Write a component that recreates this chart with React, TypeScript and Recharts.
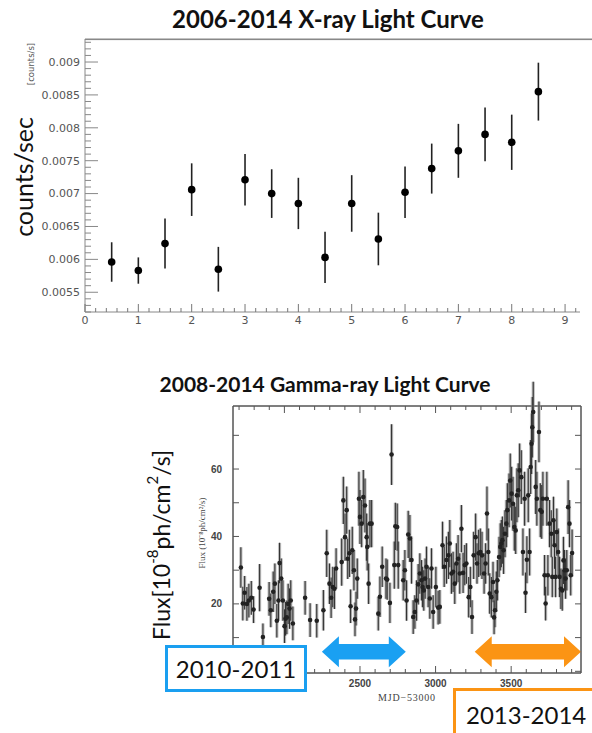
import React from "react";
import { ScatterChart, Scatter, XAxis, YAxis, ErrorBar, ReferenceArea } from "recharts";

// X-ray light curve (years since 2006)
const xrayYear = [0.5, 1, 1.5, 2, 2.5, 3, 3.5, 4, 4.5, 5, 5.5, 6, 6.5, 7, 7.5, 8, 8.5];
const xrayRate = [0.00596, 0.00583, 0.00624, 0.00706, 0.00585, 0.00721, 0.007, 0.00685, 0.00603, 0.00685, 0.00631, 0.00702, 0.00738, 0.00765, 0.0079, 0.00778, 0.00855];
const xrayErr = [0.0003, 0.0002, 0.00038, 0.0004, 0.00034, 0.00039, 0.00037, 0.00039, 0.00039, 0.00043, 0.0004, 0.00039, 0.00038, 0.00041, 0.00041, 0.00042, 0.00044];
const xrayXTicks = [0, 1, 2, 3, 4, 5, 6, 7, 8, 9];
const xrayXLabels = ["0", "1", "2", "3", "4", "5", "6", "7", "8", "9"];
const xrayYTicks = [0.0055, 0.006, 0.0065, 0.007, 0.0075, 0.008, 0.0085, 0.009];
const xrayYLabels = ["0.0055", "0.006", "0.0065", "0.007", "0.0075", "0.008", "0.0085", "0.009"];

// Gamma-ray light curve (MJD-53000)
const gammaMjd = [
  1712, 1725, 1737, 1752, 1765, 1781, 1796, 1836, 1858, 1899, 1910, 1926, 1937, 1950, 1961, 1968, 1979, 1990, 2001, 2007,
  2016, 2025, 2034, 2042, 2056, 2137, 2170, 2214, 2258, 2280, 2298, 2309, 2320, 2331, 2342, 2379, 2390, 2401, 2412, 2419,
  2430, 2438, 2449, 2460, 2467, 2474, 2482, 2493, 2500, 2511, 2522, 2533, 2544, 2548, 2557, 2566, 2577, 2621, 2632, 2647,
  2672, 2680, 2698, 2709, 2727, 2734, 2746, 2753, 2786, 2797, 2808, 2819, 2830, 2841, 2852, 2863, 2874, 2885, 2896, 2907,
  2914, 2922, 2931, 2940, 2951, 2962, 2973, 2984, 3002, 3017, 3028, 3046, 3057, 3072, 3085, 3094, 3105, 3116, 3127, 3138,
  3149, 3160, 3171, 3182, 3193, 3204, 3219, 3230, 3241, 3252, 3265, 3274, 3285, 3296, 3307, 3321, 3331, 3340, 3349, 3358,
  3369, 3380, 3387, 3393, 3402, 3409, 3420, 3428, 3435, 3442, 3450, 3459, 3468, 3475, 3486, 3494, 3503, 3512, 3521, 3530,
  3538, 3547, 3556, 3567, 3578, 3589, 3595, 3604, 3613, 3622, 3629, 3635, 3640, 3646, 3662, 3670, 3684, 3693, 3702, 3710,
  3721, 3728, 3736, 3743, 3754, 3765, 3772, 3780, 3787, 3794, 3802, 3811, 3820, 3829, 3838, 3846, 3853, 3860, 3868, 3877,
  3886, 3894, 3903,
];
const gammaFlux = [
  30.8, 20.1, 23.3, 20.0, 21.0, 21.8, 18.3, 24.8, 10.2, 21.5, 18.1, 23.6, 26.0, 15.0, 21.0, 32.1, 27.5, 21.0, 13.4, 15.6,
  16.0, 20.0, 18.6, 21.0, 14.2, 21.8, 15.2, 15.0, 18.1, 35.0, 26.0, 21.8, 25.0, 24.5, 30.5, 32.4, 50.7, 39.8, 47.8, 33.4,
  35.0, 19.3, 35.9, 30.0, 15.4, 18.6, 27.5, 51.2, 45.8, 43.8, 51.7, 49.2, 39.8, 36.9, 26.0, 43.8, 43.8, 17.1, 22.1, 31.0,
  27.5, 27.2, 20.3, 64.3, 31.5, 43.0, 42.8, 31.5, 27.0, 30.0, 21.0, 40.6, 39.4, 33.0, 16.1, 17.6, 21.0, 25.8, 29.0, 27.0,
  25.0, 24.0, 27.5, 31.0, 25.0, 21.6, 30.5, 17.6, 25.0, 18.9, 19.1, 37.4, 31.0, 33.0, 34.4, 37.9, 29.0, 29.5, 26.0, 32.0,
  33.4, 29.0, 42.3, 29.2, 31.5, 32.0, 22.0, 25.0, 16.1, 34.4, 39.8, 32.0, 35.0, 35.4, 34.4, 29.0, 32.0, 46.8, 35.4, 23.1,
  22.0, 26.5, 16.0, 18.1, 23.6, 27.0, 33.9, 36.9, 37.9, 38.9, 35.9, 40.8, 43.8, 47.8, 50.7, 56.6, 52.7, 49.7, 42.8, 41.8,
  52.2, 53.7, 59.6, 57.6, 35.4, 51.2, 23.3, 33.1, 52.2, 35.4, 60.6, 67.5, 72.4, 76.9, 54.7, 51.2, 71.0, 47.8, 47.3, 51.2,
  28.5, 20.1, 51.2, 28.5, 43.8, 40.8, 28.0, 44.8, 37.4, 28.0, 41.3, 35.4, 28.0, 24.5, 24.0, 32.9, 30.0, 27.5, 30.0, 48.7,
  43.8, 28.5, 35.1,
];
const gammaErr = [
  6, 5, 5, 5, 5, 5, 4, 7, 4, 5, 5, 6, 6, 5, 6, 6, 6, 6, 5, 5,
  5, 6, 6, 6, 5, 5, 5, 5, 6, 7, 6, 6, 6, 6, 6, 7, 7, 7, 7, 6,
  7, 5, 7, 6, 5, 5, 6, 8, 8, 7, 8, 8, 7, 7, 6, 7, 7, 5, 6, 6,
  6, 6, 6, 9, 7, 7, 7, 7, 6, 6, 6, 7, 7, 7, 5, 5, 6, 6, 6, 6,
  6, 6, 6, 6, 6, 6, 6, 5, 6, 5, 5, 7, 6, 7, 7, 7, 6, 6, 6, 6,
  7, 6, 7, 6, 6, 6, 6, 6, 5, 7, 7, 6, 7, 7, 7, 6, 6, 8, 7, 6,
  6, 6, 5, 5, 6, 6, 6, 7, 7, 7, 7, 7, 7, 8, 8, 8, 8, 8, 7, 7,
  8, 8, 8, 8, 7, 8, 6, 7, 8, 7, 8, 9, 9, 9, 8, 8, 9, 8, 8, 8,
  6, 5, 8, 6, 7, 7, 6, 7, 7, 6, 7, 7, 6, 6, 6, 7, 6, 6, 6, 8,
  7, 6, 7,
];
const gammaMajorX = [2000, 2500, 3000, 3500];
const gammaXTicks = [2500, 3000, 3500];
const gammaXLabels = ["2500", "3000", "3500"];
const gammaYTicks = [20, 40, 60];
const gammaYLabels = ["20", "40", "60"];

// highlighted periods (MJD-53000) and the flux band the arrows sit in
const blueSpan = [2248, 2803];
const orangeSpan = [3259, 3962];
const arrowBand = [1.2, 10.4];

const xrayData = xrayYear.map((x, i) => ({ x, y: xrayRate[i], err: xrayErr[i] }));
const gammaData = gammaMjd.map((x, i) => ({ x, y: gammaFlux[i], err: gammaErr[i] }));

function steps(from: number, to: number, step: number) {
  const n = Math.round((to - from) / step);
  const out: number[] = [];
  for (let i = 0; i <= n; i++) out.push(+(from + i * step).toFixed(6));
  return out;
}

type TickOpts = {
  side: "bottom" | "top" | "left" | "right";
  gap: number;
  longTicks: number[];
  labelValues?: number[];
  labels?: string[];
  long: number;
  short: number;
  stroke: string;
  font?: any;
};

function inwardTick(o: TickOpts) {
  return (props: any) => {
    const { x, y, payload } = props;
    const v = payload.value;
    const isLong = o.longTicks.some((m) => Math.abs(m - v) < 1e-7);
    const len = isLong ? o.long : o.short;
    let line = null;
    if (o.side === "bottom") {
      const ay = y - o.gap;
      line = <line x1={x} x2={x} y1={ay} y2={ay - len} stroke={o.stroke} />;
    } else if (o.side === "top") {
      const ay = y + o.gap;
      line = <line x1={x} x2={x} y1={ay} y2={ay + len} stroke={o.stroke} />;
    } else if (o.side === "left") {
      const ax = x + o.gap;
      line = <line x1={ax} x2={ax + len} y1={y} y2={y} stroke={o.stroke} />;
    } else {
      const ax = x - o.gap;
      line = <line x1={ax} x2={ax - len} y1={y} y2={y} stroke={o.stroke} />;
    }
    let label = null;
    if (o.labelValues && o.labels) {
      const idx = o.labelValues.findIndex((m) => Math.abs(m - v) < 1e-7);
      if (idx >= 0) {
        label =
          o.side === "left" ? (
            <text x={x} y={y} dy="0.35em" textAnchor="end" {...o.font}>
              {o.labels[idx]}
            </text>
          ) : (
            <text x={x} y={y} dy="0.75em" textAnchor="middle" {...o.font}>
              {o.labels[idx]}
            </text>
          );
      }
    }
    return (
      <g>
        {line}
        {label}
      </g>
    );
  };
}

function DoubleArrow(props: any) {
  const { x, y, width, height, color } = props;
  const head = 17;
  const shaft = height * 0.5;
  const cy = y + height / 2;
  const pts = [
    [x, cy],
    [x + head, y],
    [x + head, cy - shaft / 2],
    [x + width - head, cy - shaft / 2],
    [x + width - head, y],
    [x + width, cy],
    [x + width - head, y + height],
    [x + width - head, cy + shaft / 2],
    [x + head, cy + shaft / 2],
    [x + head, y + height],
  ]
    .map((p) => p.join(","))
    .join(" ");
  return <polygon points={pts} fill={color} />;
}

const rootFont = { fontFamily: "DejaVu Sans", fontSize: 11, fill: "#555" };
const gammaFont = { fontFamily: "Liberation Sans", fontSize: 10, fontWeight: 700, fill: "#444" };
const noMark = () => <g />;

function XrayChart() {
  const xDomain = [0, 9.28];
  const yDomain = [0.0052, 0.00935];
  return (
    <ScatterChart width={592} height={340} margin={{ top: 39, right: 12, bottom: 6, left: 25 }}>
      <XAxis
        xAxisId={0}
        type="number"
        dataKey="x"
        domain={xDomain}
        ticks={steps(0, 9.2, 0.2)}
        interval={0}
        height={22}
        tickSize={0}
        tickMargin={4}
        tickLine={false}
        axisLine={{ stroke: "#888" }}
        tick={inwardTick({ side: "bottom", gap: 4, longTicks: xrayXTicks, labelValues: xrayXTicks, labels: xrayXLabels, long: 8, short: 4, stroke: "#777", font: rootFont })}
      />
      <YAxis
        yAxisId={0}
        type="number"
        dataKey="y"
        domain={yDomain}
        ticks={steps(0.0052, 0.0093, 0.0001)}
        interval={0}
        width={60}
        tickSize={0}
        tickMargin={5}
        tickLine={false}
        axisLine={{ stroke: "#888" }}
        tick={inwardTick({ side: "left", gap: 5, longTicks: xrayYTicks, labelValues: xrayYTicks, labels: xrayYLabels, long: 13, short: 6, stroke: "#888", font: rootFont })}
      />
      <Scatter
        data={xrayData}
        isAnimationActive={false}
        shape={(p: any) => <circle cx={p.cx} cy={p.cy} r={3.8} fill="#000" />}
      >
        <ErrorBar dataKey="err" direction="y" width={0} stroke="#222" strokeWidth={1.6} isAnimationActive={false} />
      </Scatter>
    </ScatterChart>
  );
}

function GammaChart() {
  const xDomain = [1660, 3962];
  const yDomain = [-0.5, 78.7];
  const xMinor = steps(1700, 3900, 100);
  const yMinor = steps(0, 70, 10);
  return (
    <ScatterChart width={592} height={340} margin={{ top: 35, right: 10, bottom: 12, left: 173 }}>
      <XAxis
        xAxisId={0}
        type="number"
        dataKey="x"
        domain={xDomain}
        ticks={xMinor}
        interval={0}
        height={25}
        tickSize={0}
        tickMargin={6}
        tickLine={false}
        axisLine={{ stroke: "#555" }}
        tick={inwardTick({ side: "bottom", gap: 6, longTicks: gammaMajorX, labelValues: gammaXTicks, labels: gammaXLabels, long: 7, short: 4, stroke: "#555", font: gammaFont })}
      />
      <XAxis
        xAxisId="top"
        orientation="top"
        type="number"
        dataKey="x"
        domain={xDomain}
        ticks={xMinor}
        interval={0}
        height={1}
        tickSize={0}
        tickMargin={1}
        tickLine={false}
        axisLine={{ stroke: "#555" }}
        tick={inwardTick({ side: "top", gap: 1, longTicks: gammaMajorX, long: 7, short: 4, stroke: "#555" })}
      />
      <YAxis
        yAxisId={0}
        type="number"
        dataKey="y"
        domain={yDomain}
        allowDataOverflow
        ticks={yMinor}
        interval={0}
        width={60}
        tickSize={0}
        tickMargin={11}
        tickLine={false}
        axisLine={{ stroke: "#555" }}
        tick={inwardTick({ side: "left", gap: 11, longTicks: yMinor, labelValues: gammaYTicks, labels: gammaYLabels, long: 6, short: 6, stroke: "#555", font: gammaFont })}
      />
      <YAxis
        yAxisId="right"
        orientation="right"
        type="number"
        dataKey="y"
        domain={yDomain}
        allowDataOverflow
        ticks={yMinor}
        interval={0}
        width={1}
        tickSize={0}
        tickMargin={1}
        tickLine={false}
        axisLine={{ stroke: "#555" }}
        tick={inwardTick({ side: "right", gap: 1, longTicks: yMinor, long: 6, short: 6, stroke: "#555" })}
      />
      <ReferenceArea x1={xDomain[0]} x2={xDomain[1]} y1={yDomain[0]} y2={yDomain[1]} fill="none" stroke="#555" strokeWidth={1} />
      <Scatter xAxisId="top" yAxisId="right" data={gammaData} isAnimationActive={false} shape={noMark} />
      <Scatter
        data={gammaData}
        isAnimationActive={false}
        shape={(p: any) => <circle cx={p.cx} cy={p.cy} r={2.3} fill="#222" />}
      >
        <ErrorBar dataKey="err" direction="y" width={0} stroke="#bdbdbd" strokeWidth={3.2} isAnimationActive={false} />
        <ErrorBar dataKey="err" direction="y" width={0} stroke="#333" strokeWidth={1.1} isAnimationActive={false} />
      </Scatter>
      <ReferenceArea
        x1={blueSpan[0]}
        x2={blueSpan[1]}
        y1={arrowBand[0]}
        y2={arrowBand[1]}
        ifOverflow="visible"
        shape={(p: any) => <DoubleArrow {...p} color="#1aa0f2" />}
      />
      <ReferenceArea
        x1={orangeSpan[0]}
        x2={orangeSpan[1]}
        y1={arrowBand[0]}
        y2={arrowBand[1]}
        ifOverflow="visible"
        shape={(p: any) => <DoubleArrow {...p} color="#fb9414" />}
      />
    </ScatterChart>
  );
}

export default function App() {
  const titleFont = { fontFamily: "Lato", fontWeight: 700, fill: "#111" };
  return (
    <div style={{ position: "relative", width: 592, height: 733, overflow: "hidden", background: "#fff" }}>
      <style>{"body{margin:0}"}</style>
      <div style={{ position: "absolute", left: 0, top: 0 }}>
        <XrayChart />
      </div>
      <div style={{ position: "absolute", left: 0, top: 370 }}>
        <GammaChart />
      </div>
      <svg width={592} height={733} style={{ position: "absolute", left: 0, top: 0, pointerEvents: "none" }}>
        {/* top edge of the X-ray frame */}
        <rect x={85} y={38.5} width={507} height={1.6} fill="#888" />
        <text x={328} y={18} textAnchor="middle" dominantBaseline="central" fontSize={24} {...titleFont}>
          2006-2014 X-ray Light Curve
        </text>
        <text x={325} y={383} textAnchor="middle" dominantBaseline="central" fontSize={21} {...titleFont}>
          2008-2014 Gamma-ray Light Curve
        </text>
        <text transform="translate(23,177) rotate(-90)" textAnchor="middle" dominantBaseline="central" fontFamily="Lato" fontSize={25} fill="#111">
          counts/sec
        </text>
        <text transform="translate(31,64) rotate(-90)" textAnchor="middle" dominantBaseline="central" fontFamily="DejaVu Sans" fontSize={8.5} fill="#555">
          [counts/s]
        </text>
        <text transform="translate(161,545) rotate(-90)" textAnchor="middle" dominantBaseline="central" fontFamily="Lato" fontSize={23} fill="#111">
          Flux[10<tspan dy={-9} fontSize={15}>-8</tspan>
          <tspan dy={9}>ph/cm</tspan>
          <tspan dy={-9} fontSize={15}>2</tspan>
          <tspan dy={9}>/s]</tspan>
        </text>
        <text transform="translate(202,533) rotate(-90)" textAnchor="middle" dominantBaseline="central" fontFamily="Liberation Serif" fontSize={9} fill="#444">
          Flux (10⁻⁸ph/cm²/s)
        </text>
        <text x={407} y={697} textAnchor="middle" dominantBaseline="central" fontFamily="Liberation Serif" fontSize={10} letterSpacing={0.8} fill="#444">
          MJD−53000
        </text>
      </svg>
      <div
        style={{
          position: "absolute",
          left: 165,
          top: 645,
          width: 142,
          height: 47,
          boxSizing: "border-box",
          border: "3px solid #1a9ff0",
          background: "#fff",
          display: "flex",
          alignItems: "center",
          justifyContent: "center",
          fontFamily: "Lato",
          fontSize: 24,
          color: "#111",
        }}
      >
        2010-2011
      </div>
      <div
        style={{
          position: "absolute",
          left: 453,
          top: 688,
          width: 160,
          height: 60,
          boxSizing: "border-box",
          border: "3px solid #fb9414",
          background: "#fff",
          fontFamily: "Lato",
          fontSize: 24,
          color: "#111",
        }}
      >
        <div style={{ position: "absolute", left: 10, top: 9 }}>2013-2014</div>
      </div>
    </div>
  );
}
